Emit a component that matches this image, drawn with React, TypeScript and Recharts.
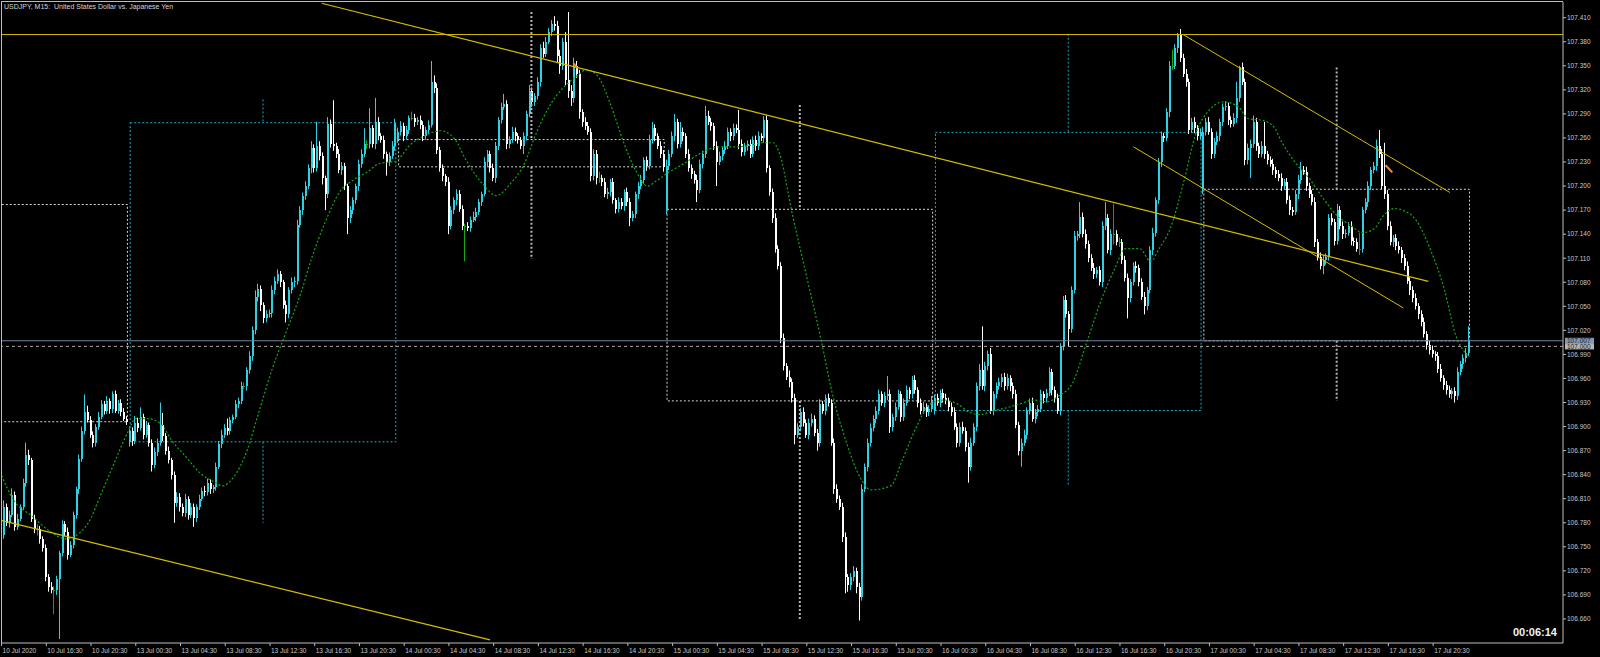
import React from 'react';
import { ComposedChart, Bar, Line, XAxis, YAxis, ReferenceLine, ReferenceArea } from 'recharts';

// ---------- DATA ----------
const firstOpen = 106.790;

const closes10 = [
  106.765, 106.800, 106.780, 106.790, 106.815, 106.775, 106.785, 106.800, 106.830, 106.865, 106.858, 106.785, 106.772, 106.772, 106.760, 106.748,
  106.712, 106.700, 106.696, 106.696, 106.710, 106.742, 106.778, 106.768, 106.740, 106.752, 106.790, 106.822, 106.860, 106.895, 106.918, 106.908,
  106.890, 106.880, 106.900, 106.912, 106.928, 106.920, 106.932, 106.922, 106.940, 106.920, 106.930, 106.918, 106.910, 106.906,
];
const closes13 = [
  106.895, 106.882, 106.905, 106.898, 106.912, 106.890, 106.902, 106.880, 106.852, 106.868, 106.880, 106.902, 106.888, 106.870, 106.858, 106.840,
  106.805, 106.812, 106.800, 106.792, 106.810, 106.790, 106.800, 106.786, 106.800, 106.810, 106.820, 106.818, 106.830, 106.822, 106.824, 106.850,
  106.878, 106.890, 106.898, 106.895, 106.908, 106.912, 106.928, 106.932, 106.950, 106.950, 106.970, 106.988, 107.020, 107.062, 107.072, 107.052,
  107.035, 107.040, 107.042, 107.070, 107.082, 107.090, 107.080, 107.052, 107.040, 107.070, 107.080, 107.082, 107.152, 107.170, 107.188, 107.200,
  107.222, 107.248, 107.222, 107.250, 107.238, 107.210, 107.190, 107.278, 107.252, 107.250, 107.240, 107.220, 107.225, 107.200, 107.160, 107.170,
  107.182, 107.200, 107.228, 107.240, 107.252, 107.252, 107.272, 107.252, 107.280, 107.262, 107.258, 107.240, 107.230, 107.238, 107.250, 107.279,
];
const closes14 = [
  107.268, 107.275, 107.262, 107.270, 107.285, 107.285, 107.280, 107.282, 107.276, 107.262, 107.270, 107.276, 107.330, 107.322, 107.245, 107.222,
  107.212, 107.205, 107.150, 107.170, 107.182, 107.190, 107.172, 107.150, 107.150, 107.148, 107.158, 107.162, 107.168, 107.180, 107.190, 107.230,
  107.240, 107.222, 107.210, 107.250, 107.282, 107.298, 107.302, 107.252, 107.258, 107.268, 107.262, 107.258, 107.250, 107.262, 107.290, 107.318,
  107.305, 107.312, 107.330, 107.372, 107.365, 107.380, 107.392, 107.402, 107.400, 107.362, 107.350, 107.380, 107.332, 107.318, 107.310, 107.350,
  107.340, 107.292, 107.280, 107.275, 107.268, 107.212, 107.240, 107.210, 107.210, 107.205, 107.190, 107.192, 107.205, 107.182, 107.172, 107.180,
  107.175, 107.192, 107.180, 107.160, 107.165, 107.190, 107.200, 107.208, 107.232, 107.225, 107.258, 107.272, 107.262, 107.250, 107.240, 107.224,
];
const closes15 = [
  107.225, 107.240, 107.262, 107.280, 107.252, 107.268, 107.262, 107.240, 107.222, 107.215, 107.208, 107.195, 107.228, 107.240, 107.288, 107.280,
  107.275, 107.250, 107.230, 107.238, 107.245, 107.250, 107.268, 107.262, 107.272, 107.270, 107.252, 107.242, 107.250, 107.252, 107.240, 107.258,
  107.250, 107.262, 107.260, 107.282, 107.222, 107.192, 107.160, 107.122, 107.100, 107.010, 106.975, 106.962, 106.955, 106.935, 106.890, 106.900,
  106.918, 106.905, 106.890, 106.905, 106.910, 106.892, 106.880, 106.928, 106.920, 106.935, 106.930, 106.880, 106.822, 106.810, 106.800, 106.762,
  106.712, 106.702, 106.712, 106.720, 106.700, 106.688, 106.822, 106.850, 106.880, 106.898, 106.910, 106.920, 106.940, 106.930, 106.938, 106.940,
  106.900, 106.912, 106.925, 106.940, 106.912, 106.930, 106.945, 106.940, 106.958, 106.945, 106.930, 106.920, 106.925, 106.918, 106.922, 106.932,
];
const closes16 = [
  106.935, 106.930, 106.942, 106.935, 106.932, 106.925, 106.918, 106.900, 106.880, 106.900, 106.895, 106.875, 106.850, 106.880, 106.900, 106.950,
  106.970, 106.950, 106.975, 106.990, 106.920, 106.940, 106.950, 106.955, 106.962, 106.950, 106.960, 106.950, 106.940, 106.902, 106.870, 106.880,
  106.890, 106.920, 106.930, 106.910, 106.918, 106.922, 106.940, 106.935, 106.942, 106.968, 106.945, 106.935, 106.920, 107.000, 107.058, 107.040,
  107.022, 107.070, 107.138, 107.140, 107.162, 107.140, 107.128, 107.110, 107.098, 107.090, 107.095, 107.080, 107.150, 107.160, 107.120, 107.140,
  107.140, 107.130, 107.130, 107.108, 107.085, 107.060, 107.080, 107.100, 107.098, 107.080, 107.062, 107.050, 107.070, 107.120, 107.142, 107.182,
  107.230, 107.262, 107.260, 107.292, 107.350, 107.350, 107.372, 107.388, 107.360, 107.340, 107.330, 107.270, 107.280, 107.272, 107.262, 107.267,
];
const closes17 = [
  107.268, 107.280, 107.268, 107.240, 107.255, 107.262, 107.280, 107.298, 107.300, 107.282, 107.278, 107.285, 107.310, 107.348, 107.330, 107.232,
  107.248, 107.252, 107.280, 107.250, 107.240, 107.250, 107.240, 107.232, 107.228, 107.220, 107.215, 107.210, 107.200, 107.205, 107.182, 107.170,
  107.168, 107.190, 107.208, 107.220, 107.218, 107.200, 107.190, 107.180, 107.130, 107.112, 107.100, 107.108, 107.112, 107.160, 107.155, 107.132,
  107.170, 107.150, 107.140, 107.142, 107.150, 107.132, 107.130, 107.122, 107.122, 107.170, 107.180, 107.200, 107.220, 107.225, 107.250, 107.240,
  107.200, 107.190, 107.150, 107.130, 107.135, 107.125, 107.120, 107.110, 107.100, 107.082, 107.070, 107.060, 107.050, 107.040, 107.030, 107.015,
  107.002, 106.995, 106.990, 106.988, 106.972, 106.960, 106.952, 106.945, 106.940, 106.944, 106.938, 106.968, 106.978, 106.985, 106.992, 107.007,
];

// wick lengths in points (0.001)
const up10 = [6,8,4,5,8,4,6,3,5,15,6,3,5,6,4,3, 5,4,6,5,4,3,5,4,6,5,4,3,5,5,22,8, 5,4,3,6,5,4,6,3,4,5,3,4,5,3];
const dn10 = [25,5,4,6,3,5,4,3,4,5,6,4,5,8,6,4, 5,6,4,30,6,75,4,5,6,3,4,5,6,4,5,3, 4,6,5,4,3,5,4,6,5,3,4,5,3,4];
const up13 = [5,4,8,6,12,4,5,3,4,6,5,28,15,4,5,3, 4,6,5,4,6,3,5,4,3,5,4,6,5,4,3,5, 4,6,5,12,4,3,5,4,6,5,4,6,5,8,6,4,
  3,5,4,6,5,6,4,3,5,4,6,5,6,5,4,6, 5,8,4,30,6,4,3,8,5,55,4,6,5,4,3,5, 4,3,5,6,20,5,25,4,30,6,4,5,3,4,6,5];
const dn13 = [6,6,4,5,3,6,4,5,8,4,5,4,6,5,4,6, 25,5,6,4,5,6,4,11,5,4,3,5,4,6,5,4, 3,5,4,6,5,4,3,5,4,3,5,4,6,5,6,8,
  6,5,4,6,5,4,6,5,10,5,4,6,5,4,6,5, 4,6,5,4,6,8,20,5,4,6,5,4,6,5,20,6, 5,4,6,5,4,6,5,4,6,5,4,6,17,5,4,6];
const up14 = [5,6,4,5,3,8,5,4,6,5,4,6,26,8,6,4, 5,3,6,5,4,6,5,4,3,5,4,6,5,4,3,6, 5,4,6,5,4,6,13,5,4,6,5,4,3,5,4,8,
  5,4,6,5,8,6,5,5,10,6,8,5,12,85,8,10, 6,5,4,6,5,4,6,5,8,4,5,6,4,5,3,6, 5,4,6,5,4,3,5,6,4,5,6,8,5,4,6,5];
const dn14 = [4,5,6,4,5,3,6,4,5,6,4,5,3,6,5,4, 6,5,10,4,5,6,4,5,44,4,5,3,6,4,5,3, 6,5,4,6,5,4,3,6,5,4,6,5,4,10,5,4,
  6,5,4,6,5,4,3,5,6,8,10,5,6,8,10,6, 5,8,6,5,4,6,5,8,6,5,4,6,5,4,6,5, 4,6,5,10,4,5,6,4,5,6,4,5,6,4,5,6];
const up15 = [8,5,6,10,4,12,5,4,6,5,4,6,5,4,12,6, 5,4,6,5,4,6,5,4,6,5,25,6,4,5,6,4, 5,6,4,5,6,4,5,6,4,5,6,4,8,5,6,4,
  5,6,4,5,6,4,5,6,4,5,6,4,5,6,4,5, 6,4,5,6,4,5,6,4,5,6,4,5,6,4,5,23, 6,4,5,6,4,5,6,4,5,6,4,5,6,4,5,6];
const dn15 = [6,5,4,6,5,4,6,5,4,6,5,15,4,6,5,4, 6,5,30,4,6,5,4,6,5,4,6,5,4,6,5,4, 6,5,4,6,5,4,6,5,4,6,5,4,6,5,12,4,
  6,5,4,6,5,4,10,5,4,6,5,4,6,5,4,6, 20,8,6,5,8,30,5,4,6,5,4,6,5,4,6,5, 8,6,5,4,6,5,4,6,5,4,6,5,4,6,5,4];
const up16 = [5,6,4,5,6,4,5,6,4,5,6,4,5,6,4,5, 8,55,6,5,8,4,5,6,4,5,6,4,5,6,4,5, 6,4,5,6,4,5,6,4,5,6,4,5,6,4,5,6,
  4,5,6,4,18,5,6,4,5,6,4,5,6,20,5,6, 38,5,6,4,5,6,4,5,6,4,5,6,4,5,6,4, 5,6,4,5,6,20,5,3,8,5,6,4,5,6,4,5];
const dn16 = [5,4,6,5,4,6,5,4,6,5,4,6,20,5,4,6, 5,4,6,5,4,6,5,4,6,5,4,6,5,4,6,20, 4,6,5,4,6,5,4,6,5,4,6,5,4,6,5,4,
  22,5,4,6,5,4,6,5,4,6,5,4,6,5,4,6, 13,4,6,5,4,25,5,4,6,5,4,10,5,4,6,5, 4,6,5,4,6,5,4,6,5,4,6,5,4,6,5,4];
const up17 = [6,5,6,4,5,6,4,5,6,4,5,6,20,2,6,4, 5,6,8,5,4,6,30,4,5,6,4,5,6,4,5,6, 4,5,6,10,5,6,4,5,6,4,5,6,4,5,6,4,
  8,5,6,4,5,6,4,5,20,4,5,6,4,5,8,20, 6,54,5,6,4,5,6,4,5,6,4,5,6,4,5,6, 4,5,6,4,5,6,4,5,6,4,5,6,4,5,6,18];
const dn17 = [6,5,4,6,5,4,6,5,4,6,5,4,6,5,4,6, 5,38,4,6,5,4,6,5,4,6,5,4,6,5,4,6, 5,4,6,5,4,6,5,4,6,5,4,10,6,5,4,6,
  5,4,6,5,4,6,5,4,8,5,4,6,5,4,6,5, 4,6,5,4,6,5,4,6,5,4,6,5,4,6,5,4, 6,5,4,6,5,4,6,5,4,6,8,5,4,6,5,4];

// daily candles (drawn as dotted boxes)
const dayStart = [-50, 46, 142, 238, 334, 430];
const dayEnd = [45, 141, 237, 333, 429, 525];
const dayOpen = [107.177, 106.881, 107.258, 107.171, 106.920, 107.196];
const dayClose = [106.906, 107.279, 107.224, 106.932, 107.267, 107.007];
const dayHigh = [107.250, 107.308, 107.417, 107.301, 107.390, 107.348];
const dayLow = [106.635, 106.780, 107.109, 106.658, 106.827, 106.932];

// moving average (green dotted)
const maIdx = [0,4,11,17,23,27,32,35,40,45,48,52,57,61,66,71,76,79,83,88,92,97,102,107,111,116,121,126,131,135,141,
  146,152,157,162,166,172,177,182,187,191,196,201,206,209,213,218,222,227,231,234,239,244,249,253,258,263,268,272,276,278,
  283,288,293,297,302,307,311,318,322,327,332,337,342,346,350,355,359,364,369,374,378,383,388,393,398,402,407,411,414,418,
  423,427,432,437,442,446,451,455,458,463,468,473,478,482,487,491,494,498,501,506,511,516,520,525];
const maVal = [106.839,106.810,106.788,106.770,106.760,106.765,106.786,106.811,106.852,106.892,106.910,106.910,106.903,106.882,106.862,106.842,106.831,106.826,106.837,106.872,106.918,106.974,107.020,107.066,107.111,107.157,107.193,107.208,107.218,107.228,107.231,
  107.251,107.264,107.269,107.259,107.233,107.203,107.188,107.203,107.228,107.264,107.300,107.323,107.338,107.345,107.338,107.300,107.259,107.218,107.200,107.206,107.218,107.228,107.239,107.246,107.249,107.249,107.251,107.254,107.254,107.243,
  107.162,107.086,107.010,106.943,106.882,106.837,106.821,106.826,106.857,106.898,106.928,106.933,106.928,106.918,106.915,106.920,106.923,106.928,106.933,106.931,106.938,106.954,107.004,107.055,107.096,107.122,107.122,107.106,107.122,107.147,
  107.208,107.264,107.295,107.305,107.300,107.284,107.282,107.274,107.254,107.228,107.208,107.183,107.162,107.152,107.142,107.147,107.162,107.172,107.170,107.157,107.121,107.071,107.015,106.987];

// trend lines [x1, y1, x2, y2] in (bar index, price)
const trendLines = [
  [114.5, 107.428, 510.3, 107.081],
  [-0.19, 106.783, 174.7, 106.634],
  [422.6, 107.389, 518.0, 107.192],
  [404.8, 107.249, 501.3, 107.048],
];
const resistance = 107.389;
const bidPrice = 107.007;
const alertPrice = 107.000;
const arrows = [
  [204.6, 107.353, 205.9, 107.347],
  [495.0, 107.226, 497.4, 107.217],
];

const xTickIdx = [0,16,32,48,64,80,96,112,128,144,160,176,192,208,224,240,256,272,288,304,320,336,352,368,384,400,416,432,448,464,480,496,512];
const xTickLabels = ['10 Jul 2020','10 Jul 16:30','10 Jul 20:30','13 Jul 00:30','13 Jul 04:30','13 Jul 08:30','13 Jul 12:30','13 Jul 16:30','13 Jul 20:30',
  '14 Jul 00:30','14 Jul 04:30','14 Jul 08:30','14 Jul 12:30','14 Jul 16:30','14 Jul 20:30','15 Jul 00:30','15 Jul 04:30','15 Jul 08:30','15 Jul 12:30',
  '15 Jul 16:30','15 Jul 20:30','16 Jul 00:30','16 Jul 04:30','16 Jul 08:30','16 Jul 12:30','16 Jul 16:30','16 Jul 20:30','17 Jul 00:30','17 Jul 04:30',
  '17 Jul 08:30','17 Jul 12:30','17 Jul 16:30','17 Jul 20:30'];
const yTicks = [106.660,106.690,106.720,106.750,106.780,106.810,106.840,106.870,106.900,106.930,106.960,106.990,107.020,107.050,107.080,107.110,107.140,107.170,107.200,107.230,107.260,107.290,107.320,107.350,107.380,107.410];

// ---------- BUILD ----------
const closeDays = [closes10, closes13, closes14, closes15, closes16, closes17];
const upDays = [up10, up13, up14, up15, up16, up17];
const dnDays = [dn10, dn13, dn14, dn15, dn16, dn17];

const rows: any[] = [];
{
  let prev = firstOpen;
  let idx = 0;
  closeDays.forEach((cs, d) => {
    cs.forEach((c, k) => {
      const o = idx === 0 ? firstOpen : k === 0 ? dayOpen[d] : prev;
      const h = Math.max(o, c) + upDays[d][k] / 1000;
      const l = Math.min(o, c) - dnDays[d][k] / 1000;
      rows.push({ i: idx, o, c, h, l, range: [l, h], ma: null });
      prev = c;
      idx++;
    });
  });
  maIdx.forEach((j, k) => { if (rows[j]) rows[j].ma = maVal[k]; });
}

const labelMap = new Map<number, string>();
xTickIdx.forEach((v, k) => labelMap.set(v, xTickLabels[k]));

const CYAN = '#2fd0e2';
const WHITE = '#ffffff';
const GREEN = '#12a812';
const BOX_CYAN = '#1ea9bb';
const BOX_WHITE = '#d6d6d6';
const GOLD = '#d6bc00';
const AXIS = '#bdbdbd';
const TXT = '#c8c8c8';
const FONT = '"Liberation Sans", Arial, sans-serif';

const Candle = (props: any) => {
  const { x, y, width, height, payload } = props;
  if (!payload) return null;
  const { o, c, h, l } = payload;
  const cx = Math.round(x + width / 2);
  const k = height / (h - l);
  const py = (p: number) => y + (h - p) * k;
  const color = c > o ? CYAN : c < o ? WHITE : GREEN;
  const top = Math.round(py(Math.max(o, c)));
  const bot = Math.round(py(Math.min(o, c)));
  return (
    <g>
      <rect x={cx - 1} y={y} width={1} height={Math.max(1, height)} fill={color} />
      <rect x={cx - 1} y={top} width={2} height={Math.max(1, bot - top)} fill={color} />
    </g>
  );
};

const XTick = (props: any) => {
  const { x, y, payload } = props;
  return (
    <text x={x + 1} y={y + 5} fill={TXT} fontSize={6.5} fontFamily={FONT} textAnchor="start">
      {labelMap.get(payload.value)}
    </text>
  );
};

const priceTag = (value: number, bg: string, fg: string) => (props: any) => {
  const vb = props.viewBox || {};
  const xx = (vb.x || 0) + (vb.width || 0) + 2;
  const yy = vb.y || 0;
  return (
    <g>
      <rect x={xx} y={yy - 3} width={29} height={6} fill={bg} />
      <text x={xx + 2} y={yy + 2.4} fontSize={6.5} fill={fg} fontFamily={FONT}>{value.toFixed(3)}</text>
    </g>
  );
};

export default function App() {
  return (
    <div style={{ position: 'relative', width: 1600, height: 657, background: '#000', overflow: 'hidden' }}>
      <style>{'body{margin:0;background:#000;}'}</style>
      <ComposedChart width={1600} height={657} data={rows} margin={{ top: 2, right: 0, bottom: 0, left: 1 }}>
        <XAxis
          dataKey="i"
          type="number"
          domain={[-0.204, 558.45]}
          allowDataOverflow
          ticks={xTickIdx}
          interval={0}
          height={14}
          tick={<XTick />}
          tickSize={3}
          tickMargin={2}
          axisLine={{ stroke: AXIS }}
          tickLine={{ stroke: AXIS }}
        />
        <YAxis
          orientation="right"
          type="number"
          domain={[106.63, 107.4296]}
          allowDataOverflow
          ticks={yTicks}
          interval={0}
          width={37}
          tickSize={3}
          tickMargin={1}
          tickFormatter={(v: number) => v.toFixed(3)}
          tick={{ fill: TXT, fontSize: 6.5, fontFamily: FONT }}
          axisLine={{ stroke: AXIS }}
          tickLine={{ stroke: AXIS }}
        />
        {/* daily boxes */}
        {dayStart.map((s, d) => (
          <ReferenceArea
            key={'box' + d}
            x1={s}
            x2={dayEnd[d]}
            y1={Math.min(dayOpen[d], dayClose[d])}
            y2={Math.max(dayOpen[d], dayClose[d])}
            fill="none"
            fillOpacity={0}
            stroke={dayClose[d] > dayOpen[d] ? BOX_CYAN : BOX_WHITE}
            strokeDasharray="2 2"
            strokeWidth={1}
            ifOverflow="hidden"
          />
        ))}
        {dayStart.map((s, d) => {
          const mid = (s + dayEnd[d]) / 2;
          const bull = dayClose[d] > dayOpen[d];
          return (
            <ReferenceLine
              key={'wu' + d}
              segment={[{ x: mid, y: dayHigh[d] }, { x: mid, y: Math.max(dayOpen[d], dayClose[d]) }]}
              stroke={bull ? BOX_CYAN : '#b4b4b4'}
              strokeWidth={bull ? 1 : 2}
              strokeDasharray="2 2"
            />
          );
        })}
        {dayStart.map((s, d) => {
          const mid = (s + dayEnd[d]) / 2;
          const bull = dayClose[d] > dayOpen[d];
          return (
            <ReferenceLine
              key={'wd' + d}
              segment={[{ x: mid, y: Math.min(dayOpen[d], dayClose[d]) }, { x: mid, y: dayLow[d] }]}
              stroke={bull ? BOX_CYAN : '#b4b4b4'}
              strokeWidth={bull ? 1 : 2}
              strokeDasharray="2 2"
            />
          );
        })}
        <Bar dataKey="range" barSize={2} shape={<Candle />} isAnimationActive={false} />
        <Line
          dataKey="ma"
          type="monotone"
          connectNulls
          dot={false}
          stroke={GREEN}
          strokeWidth={1.2}
          strokeDasharray="2 2"
          isAnimationActive={false}
        />
        <ReferenceLine y={resistance} stroke={GOLD} strokeWidth={1} />
        {trendLines.map((t, k) => (
          <ReferenceLine
            key={'tl' + k}
            segment={[{ x: t[0], y: t[1] }, { x: t[2], y: t[3] }]}
            stroke={GOLD}
            strokeWidth={k < 2 ? 1.2 : 1}
          />
        ))}
        {arrows.map((a, k) => (
          <ReferenceLine
            key={'ar' + k}
            segment={[{ x: a[0], y: a[1] }, { x: a[2], y: a[3] }]}
            stroke="#ff8c1a"
            strokeWidth={2}
          />
        ))}
        <ReferenceLine y={bidPrice} stroke="#71859a" strokeWidth={1} label={priceTag(bidPrice, '#8397ae', '#14223a')} />
        <ReferenceLine y={alertPrice} stroke="#a8a8a8" strokeWidth={1} strokeDasharray="3 3" label={priceTag(alertPrice, '#b4b4b4', '#202020')} />
      </ComposedChart>
      <div style={{ position: 'absolute', left: 1, top: 1, width: 1562, height: 642, borderLeft: '1px solid ' + AXIS, borderTop: '1px solid ' + AXIS, boxSizing: 'border-box', pointerEvents: 'none' }} />
      <div style={{ position: 'absolute', left: 4, top: 2, fontSize: 7, lineHeight: '9px', color: '#d4d4d4', fontFamily: FONT, whiteSpace: 'pre' }}>
        {'USDJPY, M15:  United States Dollar vs. Japanese Yen'}
      </div>
      <div style={{ position: 'absolute', right: 43, top: 626, fontSize: 11, lineHeight: '12px', color: '#f2f2f2', fontFamily: FONT, fontWeight: 'bold' }}>
        00:06:14
      </div>
    </div>
  );
}
